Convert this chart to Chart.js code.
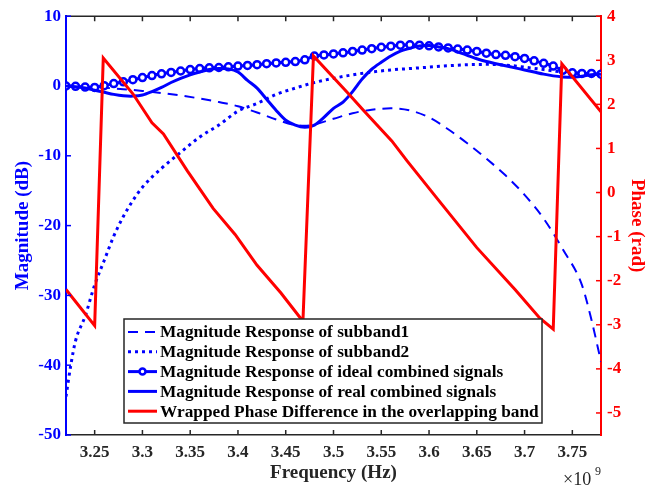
<!DOCTYPE html>
<html>
<head>
<meta charset="utf-8">
<script src="https://cdn.jsdelivr.net/npm/chart.js@4.4.1/dist/chart.umd.min.js"></script>
<style>
  body { margin: 0; background: #fff; }
  #wrap { width: 657px; height: 487px; position: relative; }
</style>
</head>
<body>
<div id="wrap"><canvas id="Chart"></canvas></div>
<script>
// frequency axis in units of 1e9 Hz
const freq = [3.22, 3.23, 3.24, 3.25, 3.26, 3.27, 3.28, 3.29, 3.30, 3.31, 3.32, 3.33, 3.34, 3.35, 3.36,
  3.37, 3.38, 3.39, 3.40, 3.41, 3.42, 3.43, 3.44, 3.45, 3.46, 3.47, 3.48, 3.49, 3.50, 3.51, 3.52,
  3.53, 3.54, 3.55, 3.56, 3.57, 3.58, 3.59, 3.60, 3.61, 3.62, 3.63, 3.64, 3.65, 3.66, 3.67, 3.68,
  3.69, 3.70, 3.71, 3.72, 3.73, 3.74, 3.75, 3.76, 3.77, 3.78]

const idealMag = [0, -0.05, -0.15, -0.2, 0.05, 0.35, 0.6, 0.9, 1.2, 1.5, 1.75, 1.95, 2.15, 2.35, 2.5,
  2.6, 2.65, 2.75, 2.85, 2.95, 3.05, 3.2, 3.3, 3.4, 3.5, 3.75, 4.3, 4.45, 4.6, 4.75, 4.95,
  5.15, 5.35, 5.55, 5.7, 5.85, 5.9, 5.85, 5.75, 5.6, 5.45, 5.3, 5.15, 4.95, 4.7, 4.5, 4.4,
  4.2, 3.95, 3.6, 3.25, 2.85, 2.25, 1.9, 1.8, 1.8, 1.7]

const realMag = [0, -0.1, -0.3, -0.6, -0.9, -1.2, -1.4, -1.45, -1.3, -0.8, -0.2, 0.5, 1.1, 1.6, 2.0,
  2.35, 2.5, 2.45, 2.0, 0.8, -0.3, -1.9, -3.5, -4.9, -5.6, -5.9, -5.6, -4.5, -3.2, -2.3, -0.8,
  1.0, 2.4, 3.4, 4.3, 5.0, 5.4, 5.75, 5.8, 5.6, 5.35, 4.9, 4.4, 3.9, 3.5, 3.2, 2.9,
  2.6, 2.3, 2.0, 1.7, 1.45, 1.3, 1.25, 1.4, 1.6, 1.7]

const sub1Freq = [3.22, 3.24, 3.26, 3.28, 3.30, 3.32, 3.34, 3.36, 3.38, 3.40, 3.42, 3.44, 3.46, 3.47,
  3.48, 3.50, 3.52, 3.54, 3.56, 3.58, 3.60, 3.62, 3.64, 3.66, 3.68, 3.70, 3.72, 3.74, 3.76, 3.77, 3.78]
const sub1Mag = [0, -0.1, -0.25, -0.45, -0.7, -1.0, -1.35, -1.8, -2.3, -2.9, -3.8, -4.8, -5.6, -5.7,
  -5.5, -4.7, -3.9, -3.4, -3.2, -3.5, -4.5, -6.2, -8.2, -10.4, -12.8, -15.6, -19.0, -23.4, -28.5, -33.5, -39.5]

const sub2Freq = [3.22, 3.225, 3.23, 3.24, 3.25, 3.26, 3.27, 3.28, 3.29, 3.30, 3.32, 3.34, 3.36, 3.38,
  3.40, 3.42, 3.44, 3.46, 3.48, 3.50, 3.52, 3.54, 3.56, 3.58, 3.60, 3.62, 3.64, 3.66, 3.68, 3.70,
  3.72, 3.74, 3.76, 3.78]
const sub2Mag = [-44.5, -40, -36.5, -33, -28.5, -25, -21.5, -18.7, -16.4, -14.5, -11.8, -9.5, -7.3, -5.6,
  -3.6, -2.5, -1.2, -0.3, 0.5, 1.1, 1.6, 2.0, 2.3, 2.5, 2.7, 2.9, 3.05, 3.1, 3.0, 2.7,
  2.35, 2.0, 1.8, 1.7]

// wrapped phase difference (rad)
const phaseFreq = [3.22, 3.25, 3.259, 3.29, 3.31, 3.322, 3.347, 3.374, 3.397, 3.42, 3.445, 3.468, 3.479,
  3.515, 3.532, 3.561, 3.577, 3.608, 3.65, 3.69, 3.716, 3.73, 3.739, 3.78]
const phaseRad = [-2.2, -3.02, 3.05, 2.24, 1.58, 1.33, 0.49, -0.36, -0.95, -1.65, -2.28, -2.92, 3.1,
  2.26, 1.85, 1.17, 0.72, -0.12, -1.25, -2.2, -2.85, -3.1, 2.92, 1.83]

const xTicks = [3.25, 3.3, 3.35, 3.4, 3.45, 3.5, 3.55, 3.6, 3.65, 3.7, 3.75]
const magTicks = [-50, -40, -30, -20, -10, 0, 10]
const phaseTicks = [-5, -4, -3, -2, -1, 0, 1, 2, 3, 4]

const legendLabels = [
  'Magnitude Response of subband1',
  'Magnitude Response of subband2',
  'Magnitude Response of ideal combined signals',
  'Magnitude Response of real combined signals',
  'Wrapped Phase Difference in the overlapping band'
]

const BLUE = '#0000ff'
const RED = '#ff0000'
const SERIF = '"Liberation Serif", "Times New Roman", serif'

function pts(xs, ys) {
  return xs.map((x, i) => ({ x: x, y: ys[i] }))
}
function fmt(v) {
  return String(Number(v.toFixed(2)))
}

// draws inward ticks, the top box edge, the x10^9 note and the boxed legend
const extrasPlugin = {
  id: 'extras',
  afterDatasetsDraw(chart) {
    const ctx = chart.ctx
    const a = chart.chartArea
    const sx = chart.scales.x, sy = chart.scales.y, sy1 = chart.scales.y1
    ctx.save()
    // top edge
    ctx.strokeStyle = '#262626'
    ctx.lineWidth = 1.5
    ctx.beginPath()
    ctx.moveTo(a.left, a.top)
    ctx.lineTo(a.right, a.top)
    ctx.stroke()
    // x ticks, bottom and top
    xTicks.forEach(v => {
      const p = sx.getPixelForValue(v)
      ctx.beginPath()
      ctx.moveTo(p, a.bottom); ctx.lineTo(p, a.bottom - 5)
      ctx.moveTo(p, a.top); ctx.lineTo(p, a.top + 5)
      ctx.stroke()
    })
    ctx.strokeStyle = BLUE
    magTicks.forEach(v => {
      const p = sy.getPixelForValue(v)
      ctx.beginPath(); ctx.moveTo(a.left, p); ctx.lineTo(a.left + 5, p); ctx.stroke()
    })
    ctx.strokeStyle = RED
    phaseTicks.forEach(v => {
      const p = sy1.getPixelForValue(v)
      ctx.beginPath(); ctx.moveTo(a.right, p); ctx.lineTo(a.right - 5, p); ctx.stroke()
    })

    // x10^9
    ctx.fillStyle = '#262626'
    ctx.textBaseline = 'alphabetic'
    ctx.textAlign = 'left'
    ctx.font = '18px ' + SERIF
    ctx.fillText('\u00d710', 563, 485)
    ctx.font = '12px ' + SERIF
    ctx.fillText('9', 595, 475)

    // legend box
    const bx = 124, by = 319, bw = 418, bh = 104
    ctx.fillStyle = '#fff'
    ctx.fillRect(bx, by, bw, bh)
    ctx.strokeStyle = '#262626'
    ctx.lineWidth = 1.5
    ctx.strokeRect(bx, by, bw, bh)
    ctx.font = 'bold 17.3px ' + SERIF
    ctx.textBaseline = 'middle'
    chart.data.datasets.forEach((ds, i) => {
      const y = by + 13 + i * 19.8
      ctx.strokeStyle = ds.borderColor
      ctx.lineWidth = ds.borderWidth
      ctx.setLineDash(ds.borderDash || [])
      ctx.beginPath()
      ctx.moveTo(bx + 4, y)
      ctx.lineTo(bx + 33, y)
      ctx.stroke()
      ctx.setLineDash([])
      if (ds.pointRadius > 0) {
        ctx.fillStyle = '#fff'
        ctx.lineWidth = ds.pointBorderWidth
        ctx.beginPath()
        ctx.arc(bx + 18.5, y, ds.pointRadius - 0.5, 0, Math.PI * 2)
        ctx.fill()
        ctx.stroke()
      }
      ctx.fillStyle = '#000'
      ctx.fillText(legendLabels[i], bx + 36, y + 1)
    })
    ctx.restore()
  }
}

const ctx = document.getElementById('Chart').getContext('2d')
const myChart = new Chart(ctx, {
  type: 'line',
  data: {
    datasets: [
      {
        label: legendLabels[0], data: pts(sub1Freq, sub1Mag), yAxisID: 'y', order: 4,
        borderColor: BLUE, borderWidth: 2, borderDash: [10, 7], pointRadius: 0,
        cubicInterpolationMode: 'monotone'
      },
      {
        label: legendLabels[1], data: pts(sub2Freq, sub2Mag), yAxisID: 'y', order: 3,
        borderColor: BLUE, borderWidth: 3, borderDash: [3, 4], pointRadius: 0,
        cubicInterpolationMode: 'monotone'
      },
      {
        label: legendLabels[2], data: pts(freq, idealMag), yAxisID: 'y', order: 2,
        borderColor: BLUE, borderWidth: 3, pointRadius: 3.5, pointBorderWidth: 2.5,
        pointBorderColor: BLUE, pointBackgroundColor: '#fff', tension: 0.3
      },
      {
        label: legendLabels[3], data: pts(freq, realMag), yAxisID: 'y', order: 1,
        borderColor: BLUE, borderWidth: 3, pointRadius: 0, tension: 0.3
      },
      {
        label: legendLabels[4], data: pts(phaseFreq, phaseRad), yAxisID: 'y1', order: 0,
        borderColor: RED, borderWidth: 3, pointRadius: 0, tension: 0
      }
    ]
  },
  options: {
    responsive: true,
    maintainAspectRatio: false,
    animation: false,
    events: [],
    layout: { padding: { top: 15, left: 0, right: 0, bottom: 0 } },
    plugins: { legend: { display: false }, tooltip: { enabled: false } },
    scales: {
      x: {
        type: 'linear', min: 3.22, max: 3.78,
        afterBuildTicks: s => { s.ticks = xTicks.map(v => ({ value: v })) },
        afterFit: s => { s.height = 52 },
        grid: { display: false, drawTicks: false },
        border: { display: true, color: '#262626', width: 1.5 },
        ticks: {
          padding: 7, color: '#262626', maxRotation: 0, autoSkip: false,
          font: { family: SERIF, size: 17, weight: 'bold' },
          callback: v => fmt(v)
        },
        title: {
          display: true, text: 'Frequency (Hz)', color: '#262626',
          font: { family: SERIF, size: 19, weight: 'bold' }, padding: { top: 0, bottom: 3 }
        }
      },
      y: {
        type: 'linear', position: 'left', min: -50, max: 10,
        afterBuildTicks: s => { s.ticks = magTicks.map(v => ({ value: v })) },
        afterFit: s => { s.width = 66 },
        grid: { display: false, drawTicks: false },
        border: { display: true, color: BLUE, width: 2 },
        ticks: {
          padding: 5, color: BLUE, autoSkip: false,
          font: { family: SERIF, size: 17, weight: 'bold' }
        },
        title: {
          display: true, text: 'Magnitude (dB)', color: BLUE,
          font: { family: SERIF, size: 19, weight: 'bold' }, padding: { top: 12, bottom: 0 }
        }
      },
      y1: {
        type: 'linear', position: 'right', min: -5.5, max: 4,
        afterBuildTicks: s => { s.ticks = phaseTicks.map(v => ({ value: v })) },
        afterFit: s => { s.width = 56 },
        grid: { display: false, drawTicks: false },
        border: { display: true, color: RED, width: 2 },
        ticks: {
          padding: 6, color: RED, autoSkip: false,
          font: { family: SERIF, size: 17, weight: 'bold' }
        },
        title: {
          display: true, text: 'Phase (rad)', color: RED,
          font: { family: SERIF, size: 19, weight: 'bold' }, padding: { top: 9, bottom: 0 }
        }
      }
    }
  },
  plugins: [extrasPlugin]
})
</script>
</body>
</html>
